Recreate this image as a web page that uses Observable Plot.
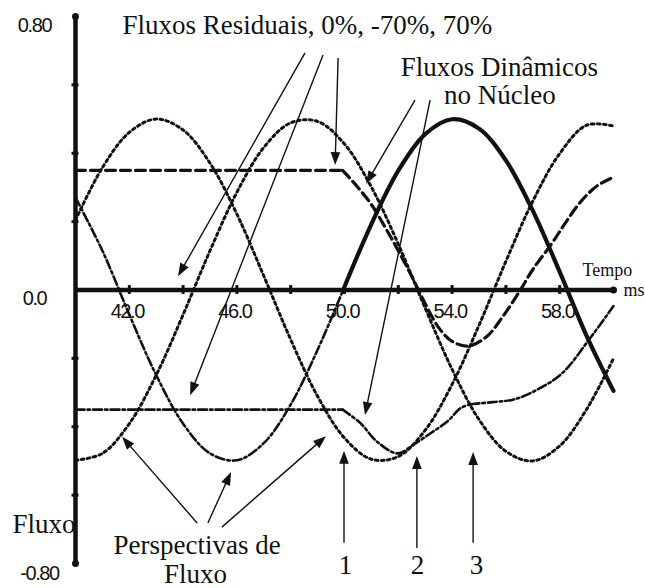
<!DOCTYPE html>
<html>
<head>
<meta charset="utf-8">
<script src="https://cdn.jsdelivr.net/npm/d3@7"></script>
<script src="https://cdn.jsdelivr.net/npm/@observablehq/plot@0.6"></script>
<style>
  html, body { margin: 0; padding: 0; background: #fff; overflow: hidden; }
  g[font-family="Liberation Sans"] text { letter-spacing: -1.4px; }
</style>
</head>
<body>
<script>
// ---- Perspective (prospective) fluxes (ms, flux) ----
const tPersp = [40,41,42,43,44,45,46,47,48,49,50,51,52,53,54,55,56,57,58,59,60];
const perspA = [0.204,0.358,0.461,0.5,0.468,0.371,0.222,0.041,-0.145,-0.311,-0.433,-0.495,-0.487,-0.41,-0.276,-0.103,0.084,0.26,0.399,0.482,0.48];
const perspB = [-0.498,-0.478,-0.391,-0.249,-0.072,0.115,0.286,0.417,0.489,0.493,0.427,0.301,0.134,-0.053,-0.232,-0.379,-0.472,-0.5,-0.456,-0.349,-0.2];
const tPerspC = [40,41,42,43,44,45,46,47,48,49,49.95];
const perspC = [0.27,0.115,-0.072,-0.249,-0.391,-0.478,-0.498,-0.448,-0.335,-0.175,0];

// ---- Dynamic core flux, phase with 0% residual (solid) ----
const tDyn0 = [49.95,51,52,53,54,55,56,57,58,59,60];
const dyn0 = [0,0.193,0.349,0.456,0.4995,0.472,0.379,0.232,0.053,-0.134,-0.295];

// ---- Residual +70% (dashed) ----
const tRes70 = [40,49.93];
const res70 = [0.35,0.35];
const tDyn70 = [49.93,50.5,51,51.5,52,52.5,52.75,53,53.5,54,54.6,55.3,55.9,56.5,57,57.7,58.2,58.8,59.4,60];
const dyn70 = [0.35,0.3,0.25,0.185,0.115,0.04,0,-0.04,-0.11,-0.15,-0.164,-0.135,-0.076,-0.005,0.06,0.135,0.195,0.26,0.305,0.33];

// ---- Residual -70% (dash-dot) ----
const tResN70 = [40,49.93];
const resN70 = [-0.35,-0.35];
const tDynN70a = [49.93,50.6,51.2,51.97,52.57,53.2,53.83,54.31,54.68];
const dynN70a = [-0.35,-0.39,-0.443,-0.478,-0.452,-0.419,-0.384,-0.346,-0.334];
const tDynN70b = [54.68,55.5,56.3,57.2,58.1,59.1,60];
const dynN70b = [-0.334,-0.328,-0.32,-0.29,-0.243,-0.144,-0.047];

// ---- Axes ----
const xTicks = [42,44,46,48,50,52,54,56,58];
const xTickLabels = [42,46,50,54,58];
const yTicks = [-0.6,-0.4,-0.2,0.2,0.4,0.6];
const yTickLabels = [0.8,0];
const yTickLabelsLow = [-0.8];

// ---- Annotations (data units: ms, flux) ----
const arrows = [
  {t1:48.55,v1:0.692,t2:43.83,v2:0.039},
  {t1:49.22,v1:0.686,t2:44.28,v2:-0.309},
  {t1:49.78,v1:0.677,t2:49.67,v2:0.364},
  {t1:52.64,v1:0.554,t2:50.82,v2:0.309},
  {t1:53.2,v1:0.554,t2:50.78,v2:-0.367},
  {t1:44.54,v1:-0.683,t2:41.75,v2:-0.431},
  {t1:44.94,v1:-0.683,t2:45.8,v2:-0.534},
  {t1:45.46,v1:-0.695,t2:49.33,v2:-0.429},
  {t1:50.0,v1:-0.741,t2:50.0,v2:-0.472},
  {t1:52.71,v1:-0.756,t2:52.71,v2:-0.487},
  {t1:54.8,v1:-0.741,t2:54.8,v2:-0.475}
];
const labelsStart = [
  {t:41.75, v:0.7745, text:"Fluxos Residuais, 0%, -70%, 70%"},
  {t:37.66, v:-0.685, text:"Fluxo"}
];
const labelsMiddle = [
  {t:55.76, v:0.652, text:"Fluxos Dinâmicos"},
  {t:55.78, v:0.570, text:"no Núcleo"},
  {t:44.52, v:-0.746, text:"Perspectivas de"},
  {t:44.46, v:-0.832, text:"Fluxo"},
  {t:50.04, v:-0.805, text:"1"},
  {t:52.71, v:-0.805, text:"2"},
  {t:54.91, v:-0.805, text:"3"}
];
const labelsSmall = [
  {t:58.85, v:0.058, text:"Tempo"},
  {t:60.37, v:0.0, text:"ms"}
];

const rows = (ts, vs) => ts.map((t, i) => ({t, v: vs[i]}));
const ink = "#111";
const serif = "Liberation Serif";

const arrowMark = (index, scales) => {
  const sx = scales && typeof scales.x === "function" ? scales.x : d3.scaleLinear([40,60],[75,613]);
  const sy = scales && typeof scales.y === "function" ? scales.y : d3.scaleLinear([-0.8,0.8],[563,16]);
  const ns = "http://www.w3.org/2000/svg";
  const g = document.createElementNS(ns, "g");
  for (const a of arrows) {
    const x1 = sx(a.t1), y1 = sy(a.v1), x2 = sx(a.t2), y2 = sy(a.v2);
    const dx = x2 - x1, dy = y2 - y1, L = Math.hypot(dx, dy);
    const ux = dx / L, uy = dy / L, hl = 13, hw = 4.8;
    const bx = x2 - ux * hl, by = y2 - uy * hl;
    const ln = document.createElementNS(ns, "line");
    ln.setAttribute("x1", x1); ln.setAttribute("y1", y1);
    ln.setAttribute("x2", bx + ux * 2); ln.setAttribute("y2", by + uy * 2);
    ln.setAttribute("stroke", ink); ln.setAttribute("stroke-width", 1.4);
    g.appendChild(ln);
    const p = document.createElementNS(ns, "polygon");
    p.setAttribute("points", `${x2},${y2} ${bx - uy*hw},${by + ux*hw} ${bx + uy*hw},${by - ux*hw}`);
    p.setAttribute("fill", ink);
    g.appendChild(p);
  }
  return g;
};

const dotted = {stroke: ink, strokeWidth: 3, strokeDasharray: "2.6,3.4", curve: "catmull-rom"};
const dashed = {stroke: ink, strokeWidth: 3.2, strokeDasharray: "10,5"};
const dashDot = {stroke: ink, strokeWidth: 2.6, strokeDasharray: "9,3,2.5,3"};

const chart = Plot.plot({
  width: 645,
  height: 588,
  marginLeft: 75,
  marginRight: 32,
  marginTop: 16,
  marginBottom: 25,
  x: {domain: [40, 60], axis: null},
  y: {domain: [-0.8, 0.8], axis: null},
  style: {background: "white", overflow: "visible"},
  marks: [
    // axes
    Plot.ruleY([0], {x1: 40, x2: 60, stroke: ink, strokeWidth: 4.5}),
    Plot.ruleX([40], {y1: -0.8, y2: 0.8, stroke: ink, strokeWidth: 4.5}),
    Plot.ruleX(xTicks, {y1: -0.013, y2: 0.013, stroke: ink, strokeWidth: 3}),
    Plot.ruleY(yTicks, {x1: 39.87, x2: 40.13, stroke: ink, strokeWidth: 3}),
    Plot.dot([{t:40,v:0.8},{t:40,v:-0.8},{t:60,v:0}], {x: "t", y: "v", r: 3.5, fill: ink}),
    Plot.text(xTickLabels, {x: d => d, y: 0, dy: 22, dx: -2, text: d => d.toFixed(1), fontFamily: "Liberation Sans", fontSize: 20, fill: ink}),
    Plot.text(yTickLabels, {x: 40, y: d => d, dx: -41, dy: 9, text: d => d === 0 ? "0.0" : d.toFixed(2), fontFamily: "Liberation Sans", fontSize: 20, fill: ink}),
    Plot.text(yTickLabelsLow, {x: 40, y: d => d, dx: -36, dy: 10.5, text: d => d.toFixed(2), fontFamily: "Liberation Sans", fontSize: 20, fill: ink}),
    // perspective fluxes
    Plot.line(rows(tPersp, perspA), {x: "t", y: "v", ...dotted}),
    Plot.line(rows(tPersp, perspB), {x: "t", y: "v", ...dotted}),
    Plot.line(rows(tPerspC, perspC), {x: "t", y: "v", ...dashDot, curve: "catmull-rom"}),
    // residual & dynamic fluxes
    Plot.line(rows(tRes70, res70), {x: "t", y: "v", ...dashed}),
    Plot.line(rows(tDyn70, dyn70), {x: "t", y: "v", ...dashed, curve: "catmull-rom"}),
    Plot.line(rows(tResN70, resN70), {x: "t", y: "v", ...dashDot}),
    Plot.line(rows(tDynN70a, dynN70a), {x: "t", y: "v", ...dashDot, curve: "catmull-rom"}),
    Plot.line(rows(tDynN70b, dynN70b), {x: "t", y: "v", ...dashDot, curve: "catmull-rom"}),
    Plot.line(rows(tDyn0, dyn0), {x: "t", y: "v", stroke: ink, strokeWidth: 4.2, curve: "catmull-rom"}),
    // annotations
    arrowMark,
    Plot.text(labelsStart, {x: "t", y: "v", text: "text", textAnchor: "start", fontFamily: serif, fontSize: 27, fill: ink}),
    Plot.text(labelsMiddle, {x: "t", y: "v", text: "text", fontFamily: serif, fontSize: 27, fill: ink}),
    Plot.text(labelsSmall, {x: "t", y: "v", text: "text", textAnchor: "start", fontFamily: serif, fontSize: 18, fill: ink})
  ]
});
document.body.appendChild(chart);
</script>
</body>
</html>
